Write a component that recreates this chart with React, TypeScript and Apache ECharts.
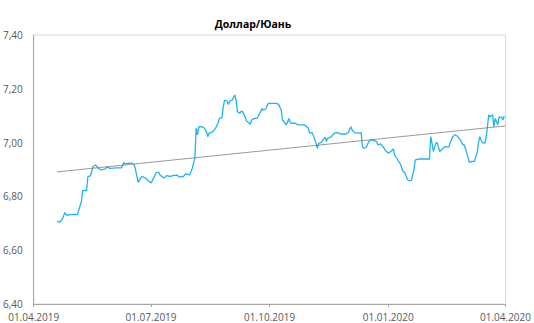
import React, { useEffect, useRef } from "react";
import * as echarts from "echarts";

const title = "Доллар/Юань";

const dates = [
  "2019-04-19","2019-04-21","2019-04-23","2019-04-24","2019-04-25","2019-04-27","2019-04-29","2019-05-02","2019-05-05","2019-05-06",
  "2019-05-08","2019-05-09","2019-05-12","2019-05-13","2019-05-15","2019-05-17","2019-05-19","2019-05-21","2019-05-23","2019-05-26",
  "2019-05-28","2019-05-30","2019-06-04","2019-06-08","2019-06-10","2019-06-11","2019-06-14","2019-06-16","2019-06-18","2019-06-19",
  "2019-06-21","2019-06-23","2019-06-24","2019-06-27","2019-06-28","2019-07-01","2019-07-03","2019-07-05","2019-07-07","2019-07-08",
  "2019-07-11","2019-07-13","2019-07-16","2019-07-18","2019-07-21","2019-07-23","2019-07-26","2019-07-28","2019-07-31","2019-08-02",
  "2019-08-04","2019-08-05","2019-08-06","2019-08-07","2019-08-09","2019-08-11","2019-08-13","2019-08-14","2019-08-15","2019-08-18",
  "2019-08-20","2019-08-22","2019-08-23","2019-08-25","2019-08-26","2019-08-27","2019-08-29","2019-08-30","2019-08-31","2019-09-02",
  "2019-09-04","2019-09-05","2019-09-06","2019-09-08","2019-09-09","2019-09-10","2019-09-12","2019-09-13","2019-09-14","2019-09-16",
  "2019-09-17","2019-09-19","2019-09-21","2019-09-22","2019-09-24","2019-09-25","2019-09-26","2019-09-28","2019-09-30","2019-10-02",
  "2019-10-06","2019-10-08","2019-10-10","2019-10-11","2019-10-13","2019-10-14","2019-10-16","2019-10-17","2019-10-18","2019-10-21",
  "2019-10-23","2019-10-26","2019-10-28","2019-10-31","2019-11-01","2019-11-03","2019-11-04","2019-11-06","2019-11-07","2019-11-08",
  "2019-11-10","2019-11-11","2019-11-13","2019-11-14","2019-11-15","2019-11-18","2019-11-20","2019-11-23","2019-11-25","2019-11-29",
  "2019-12-01","2019-12-03","2019-12-04","2019-12-06","2019-12-09","2019-12-11","2019-12-12","2019-12-13","2019-12-15","2019-12-17",
  "2019-12-19","2019-12-21","2019-12-23","2019-12-24","2019-12-26","2019-12-28","2019-12-30","2020-01-01","2020-01-03","2020-01-05",
  "2020-01-06","2020-01-08","2020-01-10","2020-01-11","2020-01-12","2020-01-14","2020-01-16","2020-01-17","2020-01-19","2020-01-20",
  "2020-01-21","2020-01-22","2020-01-25","2020-02-02","2020-02-03","2020-02-04","2020-02-05","2020-02-07","2020-02-08","2020-02-10",
  "2020-02-12","2020-02-14","2020-02-17","2020-02-18","2020-02-20","2020-02-22","2020-02-24","2020-02-26","2020-02-28","2020-02-29",
  "2020-03-02","2020-03-04","2020-03-06","2020-03-08","2020-03-09","2020-03-10","2020-03-11","2020-03-12","2020-03-14","2020-03-16",
  "2020-03-17","2020-03-18","2020-03-19","2020-03-20","2020-03-22","2020-03-23","2020-03-24","2020-03-26","2020-03-27","2020-03-29",
  "2020-03-30","2020-03-31"
];

const rates = [
  6.707,6.704,6.714,6.724,6.739,6.729,6.732,6.733,6.732,6.751,
  6.781,6.822,6.822,6.874,6.876,6.911,6.917,6.905,6.899,6.901,
  6.909,6.904,6.906,6.906,6.926,6.921,6.924,6.924,6.917,6.899,
  6.852,6.868,6.874,6.868,6.862,6.850,6.868,6.889,6.889,6.880,
  6.868,6.877,6.874,6.877,6.879,6.872,6.874,6.884,6.880,6.905,
  6.942,7.053,7.029,7.059,7.059,7.056,7.041,7.022,7.035,7.041,
  7.053,7.072,7.090,7.093,7.133,7.158,7.154,7.142,7.154,7.158,
  7.177,7.158,7.115,7.109,7.117,7.115,7.096,7.080,7.078,7.068,
  7.084,7.090,7.090,7.096,7.115,7.127,7.121,7.125,7.146,7.146,
  7.146,7.142,7.121,7.084,7.072,7.066,7.090,7.074,7.072,7.072,
  7.066,7.066,7.066,7.053,7.035,7.037,7.025,6.998,6.979,6.998,
  7.000,7.007,7.020,7.004,7.016,7.022,7.035,7.037,7.032,7.032,
  7.037,7.059,7.047,7.037,7.035,7.037,6.985,6.979,6.983,7.004,
  7.010,7.007,7.004,6.991,6.995,6.985,6.970,6.961,6.967,6.976,
  6.954,6.939,6.924,6.914,6.896,6.887,6.862,6.859,6.859,6.880,
  6.901,6.936,6.939,6.939,7.022,6.998,6.967,6.998,7.000,6.967,
  6.976,6.985,6.983,6.998,7.022,7.029,7.022,7.010,6.991,6.991,
  6.961,6.926,6.930,6.930,6.948,6.961,6.998,7.022,7.000,6.998,
  7.022,7.059,7.103,7.096,7.103,7.059,7.090,7.066,7.096,7.094,
  7.084,7.099
];

const trendDates = ["2019-04-19", "2020-04-01"];
const trendValues = [6.891, 7.062];

const xTickDates = ["2019-04-01", "2019-07-01", "2019-10-01", "2020-01-01", "2020-04-01"];
const yMin = 6.4;
const yMax = 7.4;
const yStep = 0.2;

const toTs = (s: string) => {
  const [y, m, d] = s.split("-").map(Number);
  return Date.UTC(y, m - 1, d);
};

const pad = (n: number) => (n < 10 ? "0" + n : "" + n);

export default function App() {
  const ref = useRef<HTMLDivElement>(null);
  useEffect(() => {
    if (!ref.current) return;
    const chart = echarts.init(ref.current, undefined, { renderer: "svg" });
    const tickTs = xTickDates.map(toTs);
    const font = "'Open Sans', 'Liberation Sans', sans-serif";
    chart.setOption({
      animation: false,
      title: {
        text: title,
        left: 248,
        textAlign: "center",
        top: 13,
        textStyle: { fontFamily: font, fontSize: 10.5, fontWeight: "bold", color: "#000" },
      },
      grid: {
        left: 31,
        right: 23,
        top: 35,
        bottom: 19,
        show: true,
        borderColor: "#d9d9d9",
        borderWidth: 1,
        containLabel: false,
      },
      xAxis: {
        type: "value",
        min: tickTs[0],
        max: tickTs[tickTs.length - 1],
        axisLine: { show: true, onZero: false, lineStyle: { color: "#a6a6a6", width: 1 } },
        axisTick: {
          show: true,
          customValues: tickTs,
          length: 3,
          lineStyle: { color: "#a6a6a6" },
        },
        axisLabel: {
          customValues: tickTs,
          margin: 7,
          fontFamily: font,
          fontSize: 10,
          lineHeight: 11,
          color: "#595959",
          hideOverlap: false,
          showMinLabel: true,
          showMaxLabel: true,
          formatter: (v: number) => {
            const d = new Date(v);
            return pad(d.getUTCDate()) + "." + pad(d.getUTCMonth() + 1) + "." + d.getUTCFullYear();
          },
        },
        splitLine: { show: false },
      },
      yAxis: {
        type: "value",
        min: yMin,
        max: yMax,
        interval: yStep,
        axisLine: { show: true, lineStyle: { color: "#a6a6a6", width: 1 } },
        axisTick: { show: false },
        splitLine: { show: false },
        axisLabel: {
          margin: 11,
          fontFamily: font,
          fontSize: 10,
          lineHeight: 11,
          color: "#595959",
          formatter: (v: number) => v.toFixed(2).replace(".", ","),
        },
      },
      series: [
        {
          type: "line",
          data: dates.map((d, i) => [toTs(d), rates[i]]),
          showSymbol: false,
          symbol: "none",
          lineStyle: { color: "#1eb4f0", width: 1.3 },
          z: 2,
        },
        {
          type: "line",
          data: trendDates.map((d, i) => [toTs(d), trendValues[i]]),
          showSymbol: false,
          symbol: "none",
          lineStyle: { color: "#7f7f7f", width: 0.8 },
          z: 3,
        },
      ],
    });
    return () => chart.dispose();
  }, []);
  return <div ref={ref} style={{ width: 534, height: 323, position: "absolute", left: 0, top: 0 }} />;
}
